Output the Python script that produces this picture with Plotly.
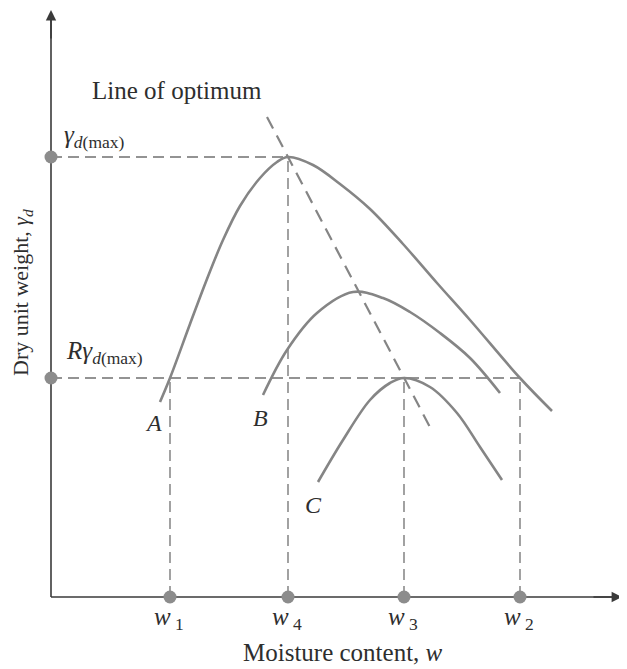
import plotly.graph_objects as go

# ---- data (units: origin at axes corner, 1 unit ~ 1 px) ----
w_subs = ["1", "4", "3", "2"]
w_pos = [119, 237, 353, 469]
gamma_max = 440
r_gamma_max = 219

curve_A_x = [109, 119, 139, 156, 172, 189, 209, 226, 237, 262, 289, 319, 352, 386, 419, 469, 501]
curve_A_y = [195, 219, 273, 318, 357, 391, 419, 435, 440, 432, 413, 388, 353, 314, 277, 219, 186]

curve_B_x = [212, 236, 266, 302, 332, 359, 389, 419, 449]
curve_B_y = [202, 247, 284, 305, 299, 285, 264, 239, 204]

curve_C_x = [267, 292, 319, 339, 353, 379, 406, 429, 451]
curve_C_y = [115, 157, 197, 214, 219, 210, 184, 150, 117]

optimum_x = [216, 381]
optimum_y = [480, 166]

x_axis_end = 571
y_axis_end = 587

FONT = "Liberation Serif, Times New Roman, serif"
CURVE = "#858585"
GUIDE = "#707070"
AXIS = "#3a3a3a"
DOT = "#8c8c8c"
TXT = "#2e2e2e"

fig = go.Figure()

# dashed guide lines
gx, gy = [], []
gx += [0, w_pos[1], None]; gy += [gamma_max, gamma_max, None]
gx += [0, w_pos[3], None]; gy += [r_gamma_max, r_gamma_max, None]
levels = [r_gamma_max, gamma_max, r_gamma_max, r_gamma_max]
for p, lv in zip(w_pos, levels):
    gx += [p, p, None]; gy += [0, lv, None]
fig.add_trace(go.Scatter(x=gx, y=gy, mode="lines",
                         line=dict(color=GUIDE, width=1.3, dash="11px,6px"),
                         hoverinfo="skip"))

# line of optimum
fig.add_trace(go.Scatter(x=optimum_x, y=optimum_y, mode="lines",
                         line=dict(color=CURVE, width=2.2, dash="13px,8px"),
                         hoverinfo="skip"))

# compaction curves
for cx, cy in [(curve_A_x, curve_A_y), (curve_B_x, curve_B_y), (curve_C_x, curve_C_y)]:
    fig.add_trace(go.Scatter(x=cx, y=cy, mode="lines", line_shape="spline",
                             line=dict(color=CURVE, width=2.6, smoothing=1.0),
                             hoverinfo="skip"))

# axis lines
fig.add_trace(go.Scatter(x=[0, x_axis_end - 6], y=[0, 0], mode="lines",
                         line=dict(color=AXIS, width=1.6), hoverinfo="skip"))
fig.add_trace(go.Scatter(x=[0, 0], y=[0, y_axis_end - 6], mode="lines",
                         line=dict(color=AXIS, width=1.6), hoverinfo="skip"))

# dots on axes
fig.add_trace(go.Scatter(x=w_pos + [0, 0], y=[0] * len(w_pos) + [gamma_max, r_gamma_max],
                         mode="markers", marker=dict(color=DOT, size=13),
                         cliponaxis=False, hoverinfo="skip"))

ann = []
# axis arrowheads
ann.append(dict(x=x_axis_end, y=0, ax=x_axis_end - 30, ay=0, xref="x", yref="y",
                axref="x", ayref="y", showarrow=True, arrowhead=2, arrowsize=1.3,
                arrowwidth=1.6, arrowcolor=AXIS, text=""))
ann.append(dict(x=0, y=y_axis_end, ax=0, ay=y_axis_end - 30, xref="x", yref="y",
                axref="x", ayref="y", showarrow=True, arrowhead=2, arrowsize=1.3,
                arrowwidth=1.6, arrowcolor=AXIS, text=""))

def txt(x, y, s, size=24, xanchor="center", yanchor="middle", angle=0):
    ann.append(dict(x=x, y=y, xref="x", yref="y", text=s, showarrow=False,
                    xanchor=xanchor, yanchor=yanchor, textangle=angle,
                    font=dict(family=FONT, size=size, color=TXT)))

txt(126, 507, "Line of optimum", size=25)
txt(11, 461, "<i>γ</i><sub><i>d</i>(max)</sub>", size=25, xanchor="left")
txt(13, 245, "<i>R</i><i>γ</i><sub><i>d</i>(max)</sub>", size=25, xanchor="left")
txt(102, 174, "<i>A</i>", size=24)
txt(209, 179, "<i>B</i>", size=24)
txt(262, 92, "<i>C</i>", size=24)
for p, s in zip(w_pos, w_subs):
    txt(p - 1, -21, "<i>w</i><sub> " + s + "</sub>", size=25)
txt(292, -55, "Moisture content, <i>w</i>", size=25)
txt(-29, 304, "Dry unit weight, <i>γ</i><sub><i>d</i></sub>", size=22, angle=-90)

# page body adds an 8 px offset; ranges are set so axes land where the reference has them
fig.update_layout(
    width=627, height=669,
    margin=dict(l=0, r=0, t=0, b=0),
    paper_bgcolor="white", plot_bgcolor="white",
    showlegend=False,
    xaxis=dict(range=[-43, 584], visible=False, fixedrange=True),
    yaxis=dict(range=[-80, 589], visible=False, fixedrange=True),
    annotations=ann,
)

fig.write_html("out.html")
